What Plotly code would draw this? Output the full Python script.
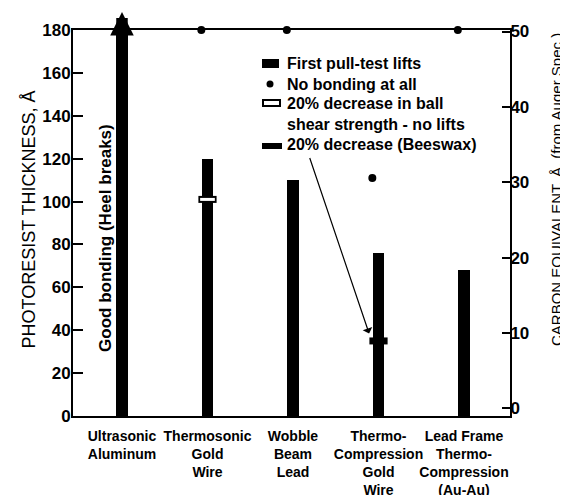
import plotly.graph_objects as go

# ---------------- data ----------------
categories = [
    "Ultrasonic<br>Aluminum",
    "Thermosonic<br>Gold<br>Wire",
    "Wobble<br>Beam<br>Lead",
    "Thermo-<br>Compression<br>Gold<br>Wire",
    "Lead Frame<br>Thermo-<br>Compression<br>(Au-Au)",
]
cat_idx = [0, 1, 2, 3, 4]
first_lift = [180, 120, 110, 76, 68]      # Ultrasonic is off-scale (good bonding, arrow)
ultra_arrow_tip = 188.4                    # tip of the arrow above the ultrasonic bar
no_bond_idx = [1, 2, 3, 4]
no_bond_vals = [180, 180, 111, 180]
ball_shear_idx = [1]
ball_shear_vals = [101]
beeswax_idx = [3]
beeswax_vals = [35]
left_ticks = [0, 20, 40, 60, 80, 100, 120, 140, 160, 180]
right_ticks = [0, 10, 20, 30, 40, 50]

# ---------------- style ----------------
OFF = 8                       # page body margin
W, H = 568 - OFF, 495 - OFF
PL, PR, PT, PB = 73, 510, 30, 416   # plot area in page pixels
ML, MR, MT, MB = PL - OFF, W - (PR - OFF), PT - OFF, H - (PB - OFF)
FAM = "Liberation Sans, Arial, Helvetica, sans-serif"
BAR_W = 0.135
DOT_OFF = -0.072
BAR_PX = 11.5


def px(x):
    return (x - PL) / (PR - PL)


def py(y):
    return (PB - y) / (PB - PT)


fig = go.Figure()

fig.add_trace(go.Bar(
    x=cat_idx, y=first_lift, width=BAR_W, marker=dict(color="black", line=dict(width=0)),
    cliponaxis=False, showlegend=False, name="First pull-test lifts", hoverinfo="skip"))

fig.add_trace(go.Scatter(
    x=[i + DOT_OFF for i in no_bond_idx], y=no_bond_vals, mode="markers", cliponaxis=False,
    marker=dict(symbol="circle", size=8, color="black", line=dict(width=0)),
    showlegend=False, name="No bonding at all", hoverinfo="skip"))

# 20% decrease in ball shear strength (white rectangle, black outline)
fig.add_trace(go.Scatter(
    x=ball_shear_idx, y=ball_shear_vals, mode="markers",
    marker=dict(symbol="line-ew", size=13, line=dict(width=7, color="black")),
    showlegend=False, hoverinfo="skip"))
fig.add_trace(go.Scatter(
    x=ball_shear_idx, y=ball_shear_vals, mode="markers",
    marker=dict(symbol="line-ew", size=10.5, line=dict(width=3, color="white")),
    showlegend=False, hoverinfo="skip"))

# 20% decrease (Beeswax)
fig.add_trace(go.Scatter(
    x=beeswax_idx, y=beeswax_vals, mode="markers",
    marker=dict(symbol="line-ew", size=13, line=dict(width=7, color="black")),
    showlegend=False, hoverinfo="skip"))

# invisible trace on right axis
fig.add_trace(go.Scatter(x=[cat_idx[0]], y=[0], yaxis="y2", mode="markers",
                         marker=dict(opacity=0), showlegend=False, hoverinfo="skip"))

# ---------------- manual legend ----------------
shapes = [
    dict(type="rect", xref="paper", yref="paper", x0=px(262), x1=px(279), y0=py(68), y1=py(59),
         fillcolor="black", line=dict(width=0)),
    dict(type="circle", xref="paper", yref="paper", x0=px(266.5), x1=px(273.5), y0=py(87.5), y1=py(80.5),
         fillcolor="black", line=dict(width=0)),
    dict(type="rect", xref="paper", yref="paper", x0=px(263), x1=px(280), y0=py(106), y1=py(100),
         fillcolor="white", line=dict(width=2, color="black")),
    dict(type="rect", xref="paper", yref="paper", x0=px(262), x1=px(282), y0=py(149), y1=py(143),
         fillcolor="black", line=dict(width=0)),
]

legend_font = dict(family=FAM, size=16, color="black", weight="bold")
annotations = [
    dict(xref="paper", yref="paper", x=px(285), y=py(64), xanchor="left", yanchor="middle",
         text="First pull-test lifts", showarrow=False, font=legend_font),
    dict(xref="paper", yref="paper", x=px(285), y=py(84), xanchor="left", yanchor="middle",
         text="No bonding at all", showarrow=False, font=legend_font),
    dict(xref="paper", yref="paper", x=px(285), y=py(113.5), xanchor="left", yanchor="middle", align="left",
         text="20% decrease in ball<br>shear strength - no lifts", showarrow=False, font=legend_font),
    dict(xref="paper", yref="paper", x=px(285), y=py(144), xanchor="left", yanchor="middle",
         text="20% decrease (Beeswax)", showarrow=False, font=legend_font),
    # arrow from legend to beeswax mark
    dict(x=beeswax_idx[0] - 0.11, y=beeswax_vals[0] + 3.5, xref="x", yref="y",
         ax=2.19, ay=121, axref="x", ayref="y", text="", showarrow=True,
         arrowhead=1, arrowsize=1.4, arrowwidth=1.2, arrowcolor="black", standoff=0),
    # off-scale arrow on the ultrasonic bar
    dict(x=cat_idx[0], y=ultra_arrow_tip, xref="x", yref="y",
         ax=cat_idx[0], ay=first_lift[0] - 10, axref="x", ayref="y", text="", showarrow=True,
         arrowhead=2, arrowwidth=BAR_PX, arrowsize=0.41, arrowcolor="black", standoff=0),
    # vertical label beside ultrasonic bar
    dict(x=cat_idx[0] - 0.2, y=83, xref="x", yref="y", text="Good bonding (Heel breaks)",
         textangle=-90, showarrow=False, xanchor="center", yanchor="middle",
         font=dict(family=FAM, size=17, color="black", weight="bold")),
    # left axis title
    dict(xref="paper", yref="paper", x=px(28.5), y=py(220), xanchor="center", yanchor="middle",
         text="PHOTORESIST THICKNESS, Å", textangle=-90, showarrow=False,
         font=dict(family=FAM, size=18, color="black")),
    # right axis title
    dict(xref="paper", yref="paper", x=px(556), y=py(190), xanchor="center", yanchor="middle",
         text="CARBON EQUIVALENT, Å, (from Auger Spec.)", textangle=-90, showarrow=False,
         font=dict(family=FAM, size=15, color="black")),
]

tickfont = dict(family=FAM, size=17, color="black", weight="bold")

fig.update_layout(
    width=W, height=H,
    margin=dict(l=ML, r=MR, t=MT, b=MB, pad=0, autoexpand=False),
    paper_bgcolor="white", plot_bgcolor="white",
    showlegend=False,
    bargap=0,
    font=dict(family=FAM, color="black"),
    xaxis=dict(
        range=[-0.573, 4.538], tickmode="array", tickvals=cat_idx, ticktext=categories,
        tickangle=0, automargin=False,
        showline=True, linewidth=2, linecolor="black", mirror=True,
        ticks="", showgrid=False, zeroline=False, fixedrange=True,
        tickfont=dict(family=FAM, size=14, color="black", weight="bold"),
        ticklabelstandoff=6,
    ),
    yaxis=dict(
        range=[0, 180], tickmode="array", tickvals=left_ticks, automargin=False,
        ticks="inside", ticklen=10, tickwidth=1.5, tickcolor="black",
        showline=True, linewidth=2, linecolor="black",
        showgrid=False, zeroline=False, tickfont=tickfont, ticklabelstandoff=-3,
    ),
    yaxis2=dict(
        range=[-1.0, 50.2], overlaying="y", side="right", tickmode="array", tickvals=right_ticks,
        automargin=False,
        ticks="inside", ticklen=8, tickwidth=1.5, tickcolor="black",
        showline=True, linewidth=2, linecolor="black",
        showgrid=False, zeroline=False, tickfont=tickfont, ticklabelstandoff=-5,
    ),
    shapes=shapes,
    annotations=annotations,
)

fig.write_html("out.html")
